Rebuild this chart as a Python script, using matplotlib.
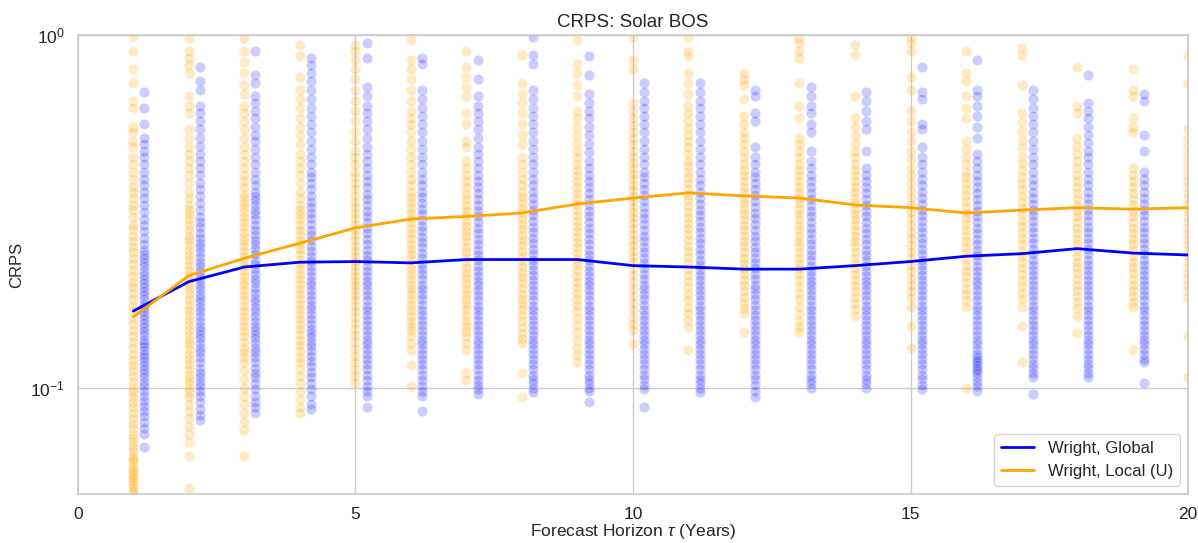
import numpy as np
import matplotlib
matplotlib.use("Agg")
import matplotlib.pyplot as plt
import seaborn as sns

sns.set_theme(style="whitegrid")
plt.rcParams['font.family'] = ['Liberation Sans', 'DejaVu Sans']
plt.rcParams['mathtext.fontset'] = 'custom'
plt.rcParams['mathtext.rm'] = 'Liberation Sans'
plt.rcParams['mathtext.it'] = 'Liberation Sans:italic'

# forecast horizons (years)
taus = [1, 2, 3, 4, 5, 6, 7, 8, 9, 10, 11, 12, 13, 14, 15, 16, 17, 18, 19, 20]

# mean CRPS per horizon
global_mean = [0.165, 0.200, 0.220, 0.227, 0.228, 0.226, 0.231, 0.231, 0.231, 0.222,
               0.220, 0.217, 0.217, 0.222, 0.228, 0.236, 0.240, 0.248, 0.241, 0.238]
local_mean = [0.159, 0.208, 0.233, 0.257, 0.284, 0.301, 0.306, 0.313, 0.332, 0.345,
              0.357, 0.350, 0.345, 0.330, 0.324, 0.313, 0.319, 0.324, 0.321, 0.324]

# individual CRPS values, Wright local (U)
loc_01 = [0.99, 0.90, 0.80, 0.73, 0.65, 0.62, 0.55, 0.53, 0.50, 0.48, 0.45, 0.43, 0.41, 0.39, 0.37, 0.36,
          0.345, 0.33, 0.32, 0.305, 0.29, 0.282, 0.27, 0.26, 0.25, 0.242, 0.233, 0.225, 0.216, 0.208, 0.2,
          0.193, 0.186, 0.178, 0.171, 0.165, 0.158, 0.152, 0.146, 0.14, 0.135, 0.13, 0.125, 0.12, 0.116,
          0.112, 0.108, 0.104, 0.1, 0.097, 0.094, 0.091, 0.088, 0.085, 0.082, 0.079, 0.077, 0.074, 0.072,
          0.07, 0.068, 0.066, 0.064, 0.063, 0.062, 0.06, 0.059, 0.058, 0.057, 0.056, 0.055, 0.054, 0.053,
          0.052, 0.051, 0.05]
loc_02 = [0.98, 0.90, 0.86, 0.82, 0.78, 0.67, 0.63, 0.60, 0.54, 0.51, 0.48, 0.46, 0.44, 0.42, 0.40, 0.38,
          0.36, 0.345, 0.33, 0.32, 0.31, 0.3, 0.29, 0.28, 0.27, 0.262, 0.254, 0.246, 0.238, 0.23, 0.223,
          0.216, 0.209, 0.202, 0.196, 0.19, 0.184, 0.178, 0.172, 0.166, 0.161, 0.156, 0.151, 0.146, 0.141,
          0.137, 0.133, 0.129, 0.125, 0.121, 0.117, 0.113, 0.109, 0.106, 0.103, 0.1, 0.097, 0.094, 0.09,
          0.086, 0.082, 0.078, 0.074, 0.07, 0.064, 0.052]
loc_03 = [0.98, 0.90, 0.84, 0.78, 0.72, 0.68, 0.63, 0.60, 0.57, 0.54, 0.51, 0.48, 0.46, 0.44, 0.42, 0.40,
          0.385, 0.37, 0.355, 0.345, 0.335, 0.325, 0.315, 0.305, 0.295, 0.286, 0.277, 0.268, 0.26, 0.252,
          0.244, 0.236, 0.229, 0.222, 0.215, 0.208, 0.201, 0.195, 0.189, 0.183, 0.177, 0.171, 0.165, 0.16,
          0.155, 0.15, 0.145, 0.14, 0.135, 0.13, 0.126, 0.122, 0.118, 0.112, 0.106, 0.1, 0.095, 0.09, 0.085,
          0.08, 0.076, 0.064]
loc_04 = [0.94, 0.87, 0.76, 0.70, 0.66, 0.62, 0.58, 0.55, 0.52, 0.49, 0.46, 0.44, 0.42, 0.40, 0.38, 0.36,
          0.345, 0.33, 0.32, 0.31, 0.3, 0.29, 0.281, 0.272, 0.263, 0.255, 0.247, 0.239, 0.231, 0.224, 0.217,
          0.21, 0.203, 0.197, 0.191, 0.185, 0.179, 0.173, 0.167, 0.162, 0.157, 0.152, 0.147, 0.142, 0.137,
          0.132, 0.127, 0.122, 0.118, 0.113, 0.108, 0.103, 0.098, 0.093, 0.088, 0.085]
loc_05 = [0.94, 0.90, 0.85, 0.80, 0.75, 0.70, 0.65, 0.61, 0.57, 0.53, 0.50, 0.47, 0.45, 0.43, 0.41, 0.395,
          0.38, 0.365, 0.35, 0.337, 0.325, 0.313, 0.302, 0.291, 0.281, 0.271, 0.262, 0.253, 0.245, 0.237,
          0.229, 0.222, 0.215, 0.208, 0.201, 0.195, 0.189, 0.183, 0.177, 0.171, 0.165, 0.159, 0.153, 0.147,
          0.141, 0.135, 0.129, 0.123, 0.118, 0.113, 0.108, 0.103]
loc_06 = [0.97, 0.85, 0.80, 0.75, 0.70, 0.65, 0.61, 0.58, 0.56, 0.53, 0.50, 0.475, 0.45, 0.43, 0.41, 0.39,
          0.375, 0.36, 0.348, 0.336, 0.325, 0.314, 0.303, 0.293, 0.283, 0.274, 0.265, 0.256, 0.248, 0.24,
          0.232, 0.224, 0.217, 0.21, 0.203, 0.196, 0.19, 0.184, 0.178, 0.172, 0.166, 0.16, 0.155, 0.15,
          0.146, 0.14, 0.134, 0.128, 0.116, 0.101]
loc_07 = [0.90, 0.81, 0.76, 0.71, 0.67, 0.60, 0.56, 0.50, 0.48, 0.44, 0.42, 0.40, 0.385, 0.37, 0.355,
          0.342, 0.33, 0.319, 0.308, 0.298, 0.288, 0.278, 0.269, 0.26, 0.251, 0.243, 0.235, 0.227, 0.219,
          0.212, 0.205, 0.198, 0.191, 0.185, 0.179, 0.173, 0.167, 0.161, 0.155, 0.15, 0.145, 0.14, 0.134,
          0.128, 0.11, 0.105]
loc_08 = [0.88, 0.73, 0.68, 0.64, 0.60, 0.56, 0.52, 0.49, 0.45, 0.43, 0.41, 0.39, 0.375, 0.36, 0.348,
          0.336, 0.324, 0.313, 0.302, 0.292, 0.282, 0.272, 0.263, 0.254, 0.245, 0.237, 0.229, 0.221, 0.213,
          0.206, 0.199, 0.192, 0.185, 0.179, 0.173, 0.167, 0.161, 0.155, 0.149, 0.143, 0.138, 0.134, 0.11,
          0.094]
loc_09 = [0.97, 0.83, 0.78, 0.72, 0.67, 0.61, 0.58, 0.55, 0.52, 0.495, 0.47, 0.45, 0.43, 0.415, 0.40,
          0.385, 0.37, 0.357, 0.344, 0.332, 0.32, 0.309, 0.298, 0.288, 0.278, 0.268, 0.259, 0.25, 0.241,
          0.232, 0.224, 0.216, 0.208, 0.2, 0.193, 0.186, 0.179, 0.172, 0.165, 0.158, 0.151, 0.144, 0.137,
          0.13, 0.124, 0.118]
loc_10 = [0.99, 0.85, 0.80, 0.64, 0.61, 0.58, 0.555, 0.53, 0.51, 0.49, 0.47, 0.45, 0.435, 0.42, 0.405,
          0.39, 0.376, 0.363, 0.35, 0.338, 0.326, 0.315, 0.304, 0.293, 0.283, 0.273, 0.263, 0.254, 0.245,
          0.236, 0.227, 0.218, 0.209, 0.2, 0.191, 0.182, 0.174, 0.166, 0.158, 0.152, 0.146, 0.133]
loc_11 = [0.99, 0.90, 0.87, 0.78, 0.73, 0.68, 0.63, 0.60, 0.57, 0.545, 0.52, 0.50, 0.48, 0.46, 0.44,
          0.425, 0.41, 0.395, 0.38, 0.366, 0.353, 0.34, 0.328, 0.316, 0.305, 0.294, 0.283, 0.273, 0.263,
          0.253, 0.244, 0.235, 0.226, 0.217, 0.209, 0.201, 0.193, 0.185, 0.177, 0.17, 0.163, 0.156, 0.149,
          0.128]
loc_12 = [0.78, 0.75, 0.72, 0.66, 0.59, 0.56, 0.53, 0.51, 0.49, 0.47, 0.45, 0.43, 0.415, 0.40, 0.386,
          0.372, 0.359, 0.346, 0.334, 0.322, 0.311, 0.3, 0.29, 0.28, 0.27, 0.261, 0.252, 0.243, 0.234, 0.226,
          0.218, 0.21, 0.202, 0.195, 0.188, 0.181, 0.174, 0.168, 0.163, 0.144]
loc_13 = [0.98, 0.95, 0.90, 0.86, 0.73, 0.63, 0.58, 0.51, 0.49, 0.47, 0.45, 0.43, 0.415, 0.40, 0.386,
          0.372, 0.359, 0.346, 0.334, 0.322, 0.311, 0.3, 0.29, 0.28, 0.27, 0.261, 0.252, 0.243, 0.234, 0.226,
          0.218, 0.21, 0.202, 0.194, 0.186, 0.178, 0.17, 0.162, 0.155, 0.149, 0.144]
loc_14 = [0.94, 0.88, 0.67, 0.58, 0.55, 0.52, 0.495, 0.47, 0.45, 0.43, 0.415, 0.40, 0.386, 0.372, 0.359,
          0.346, 0.334, 0.322, 0.311, 0.3, 0.29, 0.28, 0.27, 0.261, 0.252, 0.243, 0.234, 0.226, 0.218, 0.21,
          0.202, 0.195, 0.188, 0.181, 0.174, 0.167, 0.16]
loc_15 = [0.99, 0.95, 0.90, 0.76, 0.70, 0.61, 0.57, 0.53, 0.50, 0.47, 0.445, 0.42, 0.40, 0.38, 0.362,
          0.345, 0.33, 0.316, 0.302, 0.289, 0.277, 0.265, 0.254, 0.243, 0.233, 0.223, 0.214, 0.205, 0.196,
          0.188, 0.18, 0.17, 0.15, 0.13]
loc_16 = [0.90, 0.78, 0.74, 0.67, 0.62, 0.58, 0.50, 0.475, 0.45, 0.43, 0.41, 0.395, 0.38, 0.366, 0.352,
          0.339, 0.326, 0.314, 0.302, 0.291, 0.28, 0.27, 0.26, 0.25, 0.241, 0.232, 0.223, 0.215, 0.207,
          0.199, 0.191, 0.184, 0.177, 0.17, 0.1]
loc_17 = [0.92, 0.88, 0.72, 0.60, 0.565, 0.535, 0.505, 0.48, 0.455, 0.435, 0.415, 0.395, 0.38, 0.365,
          0.35, 0.336, 0.323, 0.31, 0.298, 0.287, 0.276, 0.265, 0.255, 0.245, 0.236, 0.227, 0.218, 0.21,
          0.202, 0.194, 0.186, 0.178, 0.17, 0.15, 0.118]
loc_18 = [0.81, 0.63, 0.60, 0.51, 0.485, 0.46, 0.44, 0.42, 0.40, 0.385, 0.37, 0.356, 0.343, 0.33, 0.318,
          0.306, 0.295, 0.284, 0.274, 0.264, 0.255, 0.246, 0.237, 0.228, 0.22, 0.212, 0.204, 0.196, 0.189,
          0.182, 0.175, 0.168, 0.16, 0.143]
loc_19 = [0.80, 0.70, 0.67, 0.58, 0.55, 0.53, 0.42, 0.40, 0.385, 0.37, 0.356, 0.343, 0.33, 0.318, 0.306,
          0.295, 0.284, 0.274, 0.264, 0.255, 0.246, 0.237, 0.228, 0.22, 0.212, 0.204, 0.196, 0.189, 0.182,
          0.175, 0.17, 0.128]
loc_20 = [0.87, 0.73, 0.54, 0.51, 0.485, 0.46, 0.44, 0.42, 0.40, 0.385, 0.37, 0.356, 0.343, 0.33, 0.318,
          0.306, 0.295, 0.284, 0.274, 0.264, 0.255, 0.246, 0.237, 0.228, 0.22, 0.212, 0.204, 0.196, 0.188,
          0.18, 0.14, 0.107]

# individual CRPS values, Wright global
glo_01 = [0.69, 0.62, 0.56, 0.51, 0.49, 0.47, 0.45, 0.43, 0.41, 0.39, 0.375, 0.36, 0.345, 0.33, 0.315,
          0.3, 0.29, 0.278, 0.266, 0.255, 0.246, 0.24, 0.233, 0.227, 0.221, 0.215, 0.209, 0.203, 0.198,
          0.193, 0.188, 0.183, 0.178, 0.173, 0.169, 0.165, 0.161, 0.157, 0.153, 0.149, 0.145, 0.141, 0.137,
          0.134, 0.131, 0.128, 0.125, 0.122, 0.119, 0.116, 0.113, 0.11, 0.107, 0.104, 0.101, 0.098, 0.095,
          0.092, 0.089, 0.086, 0.083, 0.08, 0.077, 0.074, 0.068]
glo_02 = [0.81, 0.74, 0.70, 0.63, 0.60, 0.57, 0.54, 0.51, 0.485, 0.46, 0.44, 0.42, 0.40, 0.38, 0.365,
          0.35, 0.335, 0.32, 0.305, 0.295, 0.285, 0.275, 0.266, 0.258, 0.25, 0.242, 0.235, 0.228, 0.221,
          0.214, 0.208, 0.202, 0.196, 0.19, 0.185, 0.18, 0.175, 0.17, 0.165, 0.16, 0.155, 0.15, 0.146,
          0.142, 0.138, 0.134, 0.13, 0.126, 0.122, 0.118, 0.114, 0.11, 0.107, 0.104, 0.101, 0.098, 0.095,
          0.091, 0.087, 0.084, 0.081]
glo_03 = [0.90, 0.77, 0.73, 0.67, 0.64, 0.61, 0.58, 0.55, 0.52, 0.50, 0.475, 0.45, 0.43, 0.41, 0.39,
          0.375, 0.36, 0.35, 0.34, 0.33, 0.32, 0.31, 0.3, 0.29, 0.281, 0.272, 0.263, 0.255, 0.247, 0.239,
          0.231, 0.224, 0.217, 0.21, 0.204, 0.198, 0.192, 0.186, 0.18, 0.175, 0.17, 0.165, 0.16, 0.155,
          0.15, 0.146, 0.142, 0.138, 0.134, 0.13, 0.126, 0.122, 0.118, 0.114, 0.11, 0.107, 0.103, 0.099,
          0.095, 0.091, 0.088, 0.085]
glo_04 = [0.86, 0.82, 0.78, 0.74, 0.70, 0.66, 0.62, 0.59, 0.56, 0.53, 0.50, 0.475, 0.45, 0.43, 0.41,
          0.395, 0.38, 0.365, 0.35, 0.337, 0.325, 0.313, 0.302, 0.291, 0.281, 0.271, 0.262, 0.253, 0.245,
          0.237, 0.229, 0.222, 0.215, 0.208, 0.201, 0.195, 0.189, 0.183, 0.177, 0.172, 0.167, 0.162, 0.157,
          0.152, 0.147, 0.143, 0.139, 0.135, 0.131, 0.127, 0.123, 0.119, 0.115, 0.111, 0.107, 0.103, 0.099,
          0.095, 0.09, 0.087]
glo_05 = [0.95, 0.86, 0.71, 0.67, 0.63, 0.60, 0.57, 0.54, 0.51, 0.48, 0.46, 0.44, 0.42, 0.40, 0.385,
          0.37, 0.355, 0.342, 0.33, 0.318, 0.306, 0.295, 0.284, 0.274, 0.264, 0.255, 0.246, 0.238, 0.23,
          0.222, 0.215, 0.208, 0.201, 0.195, 0.189, 0.183, 0.177, 0.171, 0.166, 0.161, 0.156, 0.151, 0.146,
          0.141, 0.137, 0.133, 0.129, 0.125, 0.121, 0.117, 0.113, 0.109, 0.105, 0.101, 0.098, 0.095, 0.088]
glo_06 = [0.86, 0.83, 0.70, 0.66, 0.62, 0.59, 0.56, 0.53, 0.50, 0.475, 0.45, 0.43, 0.41, 0.39, 0.375,
          0.36, 0.347, 0.334, 0.322, 0.31, 0.299, 0.288, 0.278, 0.268, 0.259, 0.25, 0.241, 0.233, 0.225,
          0.217, 0.21, 0.203, 0.196, 0.19, 0.184, 0.178, 0.172, 0.166, 0.161, 0.156, 0.151, 0.146, 0.141,
          0.137, 0.133, 0.129, 0.125, 0.121, 0.117, 0.113, 0.109, 0.105, 0.101, 0.098, 0.095, 0.086]
glo_07 = [0.85, 0.75, 0.67, 0.63, 0.60, 0.57, 0.54, 0.51, 0.48, 0.46, 0.44, 0.42, 0.40, 0.385, 0.37,
          0.356, 0.343, 0.33, 0.318, 0.306, 0.295, 0.284, 0.274, 0.264, 0.255, 0.246, 0.238, 0.23, 0.222,
          0.215, 0.208, 0.201, 0.195, 0.189, 0.183, 0.177, 0.171, 0.166, 0.161, 0.156, 0.151, 0.146, 0.141,
          0.137, 0.133, 0.129, 0.125, 0.121, 0.117, 0.113, 0.109, 0.105, 0.102, 0.099, 0.096]
glo_08 = [0.99, 0.88, 0.83, 0.70, 0.66, 0.62, 0.59, 0.56, 0.53, 0.50, 0.475, 0.45, 0.43, 0.41, 0.39,
          0.375, 0.36, 0.346, 0.333, 0.32, 0.308, 0.297, 0.286, 0.276, 0.266, 0.257, 0.248, 0.239, 0.231,
          0.223, 0.216, 0.209, 0.202, 0.195, 0.189, 0.183, 0.177, 0.171, 0.166, 0.161, 0.156, 0.151, 0.146,
          0.141, 0.137, 0.133, 0.129, 0.125, 0.121, 0.117, 0.113, 0.109, 0.106, 0.103, 0.1, 0.097]
glo_09 = [0.87, 0.77, 0.68, 0.64, 0.61, 0.58, 0.55, 0.52, 0.49, 0.465, 0.44, 0.42, 0.40, 0.385, 0.37,
          0.356, 0.343, 0.33, 0.318, 0.306, 0.295, 0.284, 0.274, 0.264, 0.255, 0.246, 0.238, 0.23, 0.222,
          0.215, 0.208, 0.201, 0.195, 0.189, 0.183, 0.177, 0.171, 0.166, 0.161, 0.156, 0.151, 0.146, 0.141,
          0.137, 0.133, 0.129, 0.125, 0.121, 0.117, 0.113, 0.109, 0.106, 0.103, 0.1, 0.098, 0.091]
glo_10 = [0.73, 0.69, 0.65, 0.62, 0.59, 0.56, 0.53, 0.50, 0.475, 0.45, 0.43, 0.41, 0.395, 0.38, 0.366,
          0.352, 0.339, 0.326, 0.314, 0.302, 0.291, 0.28, 0.27, 0.26, 0.251, 0.242, 0.234, 0.226, 0.218,
          0.21, 0.203, 0.196, 0.19, 0.184, 0.178, 0.172, 0.166, 0.161, 0.156, 0.151, 0.146, 0.141, 0.137,
          0.133, 0.129, 0.125, 0.121, 0.117, 0.113, 0.109, 0.106, 0.102, 0.099, 0.088]
glo_11 = [0.73, 0.69, 0.65, 0.62, 0.59, 0.56, 0.53, 0.50, 0.475, 0.45, 0.43, 0.41, 0.39, 0.375, 0.36,
          0.346, 0.333, 0.32, 0.308, 0.297, 0.286, 0.276, 0.266, 0.257, 0.248, 0.239, 0.231, 0.223, 0.216,
          0.209, 0.202, 0.195, 0.189, 0.183, 0.177, 0.171, 0.166, 0.161, 0.156, 0.151, 0.146, 0.141, 0.137,
          0.133, 0.129, 0.125, 0.121, 0.117, 0.113, 0.109, 0.106, 0.103, 0.1, 0.097]
glo_12 = [0.70, 0.67, 0.60, 0.57, 0.48, 0.45, 0.43, 0.41, 0.395, 0.38, 0.366, 0.352, 0.339, 0.326,
          0.314, 0.302, 0.291, 0.28, 0.27, 0.26, 0.251, 0.242, 0.234, 0.226, 0.218, 0.21, 0.203, 0.196,
          0.19, 0.184, 0.178, 0.172, 0.166, 0.161, 0.156, 0.151, 0.146, 0.141, 0.137, 0.133, 0.129, 0.125,
          0.121, 0.117, 0.113, 0.109, 0.106, 0.102, 0.098, 0.094]
glo_13 = [0.71, 0.67, 0.63, 0.60, 0.56, 0.53, 0.47, 0.44, 0.42, 0.40, 0.385, 0.37, 0.356, 0.343, 0.33,
          0.318, 0.306, 0.295, 0.284, 0.274, 0.264, 0.255, 0.246, 0.238, 0.23, 0.222, 0.215, 0.208, 0.201,
          0.195, 0.189, 0.183, 0.177, 0.171, 0.166, 0.161, 0.156, 0.151, 0.146, 0.141, 0.137, 0.133, 0.129,
          0.125, 0.121, 0.117, 0.113, 0.109, 0.106, 0.103, 0.1]
glo_14 = [0.69, 0.65, 0.61, 0.57, 0.54, 0.47, 0.42, 0.40, 0.385, 0.37, 0.356, 0.343, 0.33, 0.318, 0.306,
          0.295, 0.284, 0.274, 0.264, 0.255, 0.246, 0.238, 0.23, 0.222, 0.215, 0.208, 0.201, 0.195, 0.189,
          0.183, 0.177, 0.171, 0.166, 0.161, 0.156, 0.151, 0.146, 0.141, 0.137, 0.133, 0.129, 0.125, 0.121,
          0.117, 0.113, 0.109, 0.106, 0.103, 0.1]
glo_15 = [0.81, 0.69, 0.66, 0.56, 0.54, 0.48, 0.45, 0.43, 0.41, 0.39, 0.375, 0.36, 0.346, 0.333, 0.32,
          0.308, 0.297, 0.286, 0.276, 0.266, 0.257, 0.248, 0.239, 0.231, 0.223, 0.216, 0.209, 0.202, 0.195,
          0.189, 0.183, 0.177, 0.171, 0.166, 0.161, 0.156, 0.151, 0.146, 0.141, 0.137, 0.133, 0.129, 0.125,
          0.121, 0.117, 0.113, 0.109, 0.106, 0.102, 0.099]
glo_16 = [0.85, 0.70, 0.67, 0.63, 0.59, 0.55, 0.51, 0.46, 0.44, 0.42, 0.40, 0.385, 0.37, 0.356, 0.343,
          0.33, 0.318, 0.306, 0.295, 0.284, 0.274, 0.264, 0.255, 0.246, 0.238, 0.23, 0.222, 0.215, 0.208,
          0.201, 0.195, 0.189, 0.183, 0.177, 0.171, 0.166, 0.161, 0.156, 0.151, 0.146, 0.141, 0.137, 0.133,
          0.129, 0.125, 0.122, 0.12, 0.118, 0.116, 0.114, 0.112, 0.11, 0.107, 0.104, 0.101, 0.098]
glo_17 = [0.70, 0.66, 0.62, 0.59, 0.56, 0.53, 0.50, 0.475, 0.45, 0.43, 0.41, 0.39, 0.375, 0.36, 0.346,
          0.333, 0.32, 0.308, 0.297, 0.286, 0.276, 0.266, 0.257, 0.248, 0.239, 0.231, 0.223, 0.216, 0.209,
          0.202, 0.195, 0.189, 0.183, 0.177, 0.171, 0.166, 0.161, 0.156, 0.151, 0.146, 0.141, 0.137, 0.133,
          0.129, 0.125, 0.121, 0.117, 0.114, 0.11, 0.107, 0.096]
glo_18 = [0.77, 0.64, 0.61, 0.58, 0.55, 0.52, 0.495, 0.47, 0.45, 0.43, 0.41, 0.39, 0.375, 0.36, 0.346,
          0.333, 0.32, 0.308, 0.297, 0.286, 0.276, 0.266, 0.257, 0.248, 0.239, 0.231, 0.223, 0.216, 0.209,
          0.202, 0.195, 0.189, 0.183, 0.177, 0.171, 0.166, 0.161, 0.156, 0.151, 0.146, 0.141, 0.137, 0.133,
          0.129, 0.125, 0.121, 0.117, 0.114, 0.11, 0.107]
glo_19 = [0.68, 0.65, 0.52, 0.47, 0.41, 0.39, 0.375, 0.36, 0.346, 0.333, 0.32, 0.308, 0.297, 0.286,
          0.276, 0.266, 0.257, 0.248, 0.239, 0.231, 0.223, 0.216, 0.209, 0.202, 0.195, 0.189, 0.183, 0.177,
          0.171, 0.166, 0.161, 0.156, 0.151, 0.146, 0.141, 0.137, 0.133, 0.129, 0.125, 0.121, 0.118, 0.103]

local_points = [loc_01, loc_02, loc_03, loc_04, loc_05, loc_06, loc_07, loc_08, loc_09, loc_10,
                loc_11, loc_12, loc_13, loc_14, loc_15, loc_16, loc_17, loc_18, loc_19, loc_20]
global_points = [glo_01, glo_02, glo_03, glo_04, glo_05, glo_06, glo_07, glo_08, glo_09, glo_10,
                 glo_11, glo_12, glo_13, glo_14, glo_15, glo_16, glo_17, glo_18, glo_19]

# global scatter is nudged right so the two columns don't sit on top of each other
shift = 0.2

fig = plt.figure(figsize=(11.98, 5.43), dpi=100)
ax = fig.add_axes([0.065, 0.0902, 0.9267, 0.8453])

for t, vals in zip(taus, local_points):
    ax.scatter(np.full(len(vals), t), vals, s=55, color='orange', alpha=0.23,
               edgecolors='white', linewidths=0.6, zorder=2)
for t, vals in zip(taus, global_points):
    ax.scatter(np.full(len(vals), t + shift), vals, s=55, color='blue', alpha=0.2,
               edgecolors='white', linewidths=0.6, zorder=2)

ax.plot(taus, global_mean, color='blue', lw=2, label='Wright, Global', zorder=3)
ax.plot(taus, local_mean, color='orange', lw=2, label='Wright, Local (U)', zorder=3)

ax.set_yscale('log')
ax.set_ylim(0.05, 1)
ax.set_xlim(0, 20)
ax.set_xticks([0, 5, 10, 15, 20])
ax.yaxis.set_minor_locator(matplotlib.ticker.NullLocator())
ax.tick_params(labelsize=12.5)
ax.tick_params(axis='x', pad=3)

ax.set_title('CRPS: Solar BOS', fontsize=13.5)
ax.set_xlabel(r'Forecast Horizon $\tau$ (Years)', fontsize=12.5, labelpad=0)
ax.set_ylabel('CRPS', fontsize=12)
ax.legend(loc='lower right', fontsize=12)

fig.savefig('out.png', dpi=100)
